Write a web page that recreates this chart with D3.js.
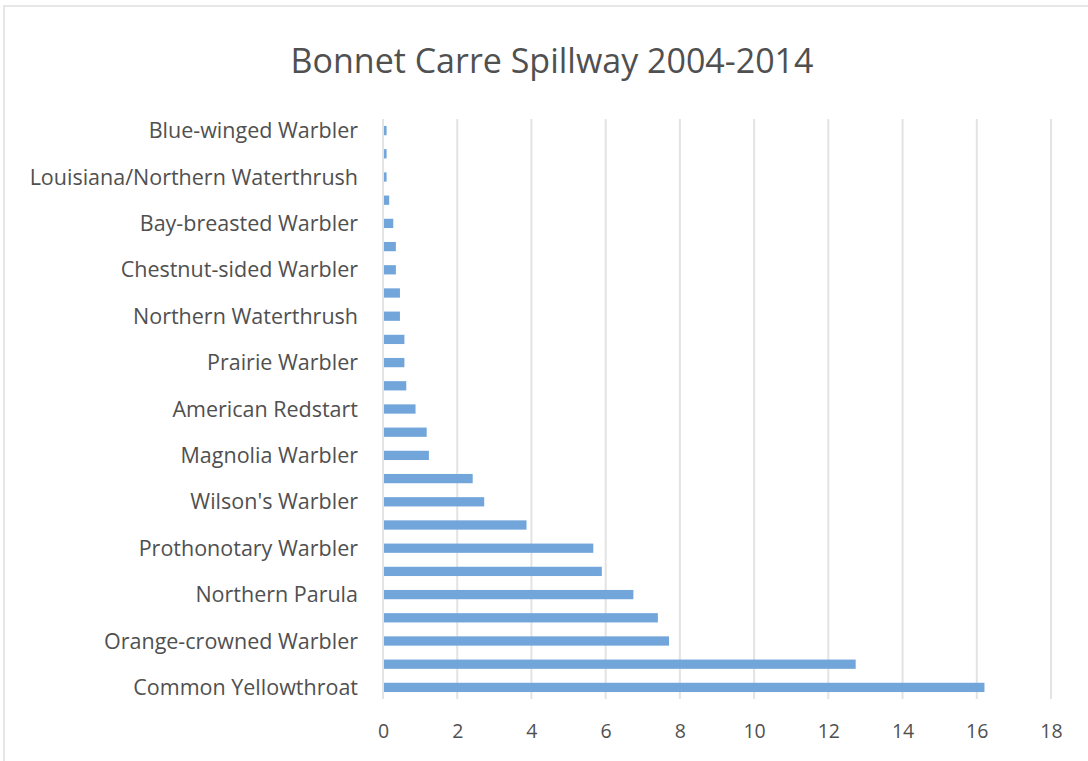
<!DOCTYPE html>
<html>
<head>
<meta charset="utf-8">
<title>Bonnet Carre Spillway 2004-2014</title>
<script src="https://d3js.org/d3.v7.min.js"></script>
<style>
  body { margin: 0; background: #fff; }
  text { font-family: "Open Sans", Lato, sans-serif; fill: #505050; }
  .title { font-size: 34px; }
  .ylab text { font-size: 21.5px; }
  .xlab text { font-size: 19.5px; }
</style>
</head>
<body>
<script>
// categories top to bottom; "" = category whose label Excel skipped
var species = ["Blue-winged Warbler", "", "Louisiana/Northern Waterthrush", "",
               "Bay-breasted Warbler", "", "Chestnut-sided Warbler", "",
               "Northern Waterthrush", "", "Prairie Warbler", "",
               "American Redstart", "", "Magnolia Warbler", "",
               "Wilson's Warbler", "", "Prothonotary Warbler", "",
               "Northern Parula", "", "Orange-crowned Warbler", "",
               "Common Yellowthroat"];
var counts = [0.07, 0.07, 0.07, 0.14, 0.25, 0.32, 0.32, 0.43, 0.43, 0.55,
              0.55, 0.6, 0.85, 1.15, 1.21, 2.39, 2.7, 3.84, 5.64, 5.87,
              6.72, 7.38, 7.68, 12.71, 16.18];
var xTicks = [0, 2, 4, 6, 8, 10, 12, 14, 16, 18];

var width = 1088, height = 761;
var margin = {top: 119, right: 37, bottom: 62, left: 383};

var svg = d3.select("body").append("svg")
    .attr("width", width).attr("height", height);

// chart frame (cut off at right/bottom like the screenshot)
svg.append("rect").attr("x", 4).attr("y", 6)
    .attr("width", width + 10).attr("height", height + 10)
    .attr("fill", "none").attr("stroke", "#e6e6e6").attr("stroke-width", 2);

svg.append("text").attr("class", "title")
    .attr("x", 552).attr("y", 73).attr("text-anchor", "middle")
    .text("Bonnet Carre Spillway 2004-2014");

var x = d3.scaleLinear().domain([0, 18])
    .range([margin.left, width - margin.right]);
var y = d3.scaleBand().domain(d3.range(species.length))
    .range([margin.top, height - margin.bottom])
    .paddingInner(0.6).paddingOuter(0.3);

// gridlines
svg.append("g").selectAll("line").data(xTicks).enter().append("line")
    .attr("x1", d => x(d)).attr("x2", d => x(d))
    .attr("y1", margin.top).attr("y2", height - margin.bottom)
    .attr("stroke", "#e3e3e3").attr("stroke-width", 2);

svg.append("g").selectAll("rect").data(counts).enter().append("rect")
    .attr("x", x(0) + 1)
    .attr("y", (d, i) => y(i))
    .attr("width", d => x(d) - x(0))
    .attr("height", y.bandwidth())
    .attr("fill", "#72a6db");

var yAxis = svg.append("g").attr("class", "ylab")
    .attr("transform", "translate(" + (margin.left - 25) + ",0)")
    .call(d3.axisLeft(y).tickSize(0).tickPadding(0).tickFormat(i => species[i]));
yAxis.select(".domain").remove();
yAxis.selectAll("text").attr("dy", "0.35em");

var xAxis = svg.append("g").attr("class", "xlab")
    .attr("transform", "translate(0," + (height - margin.bottom) + ")")
    .call(d3.axisBottom(x).tickValues(xTicks).tickSize(0).tickPadding(25));
xAxis.select(".domain").remove();
</script>
</body>
</html>
